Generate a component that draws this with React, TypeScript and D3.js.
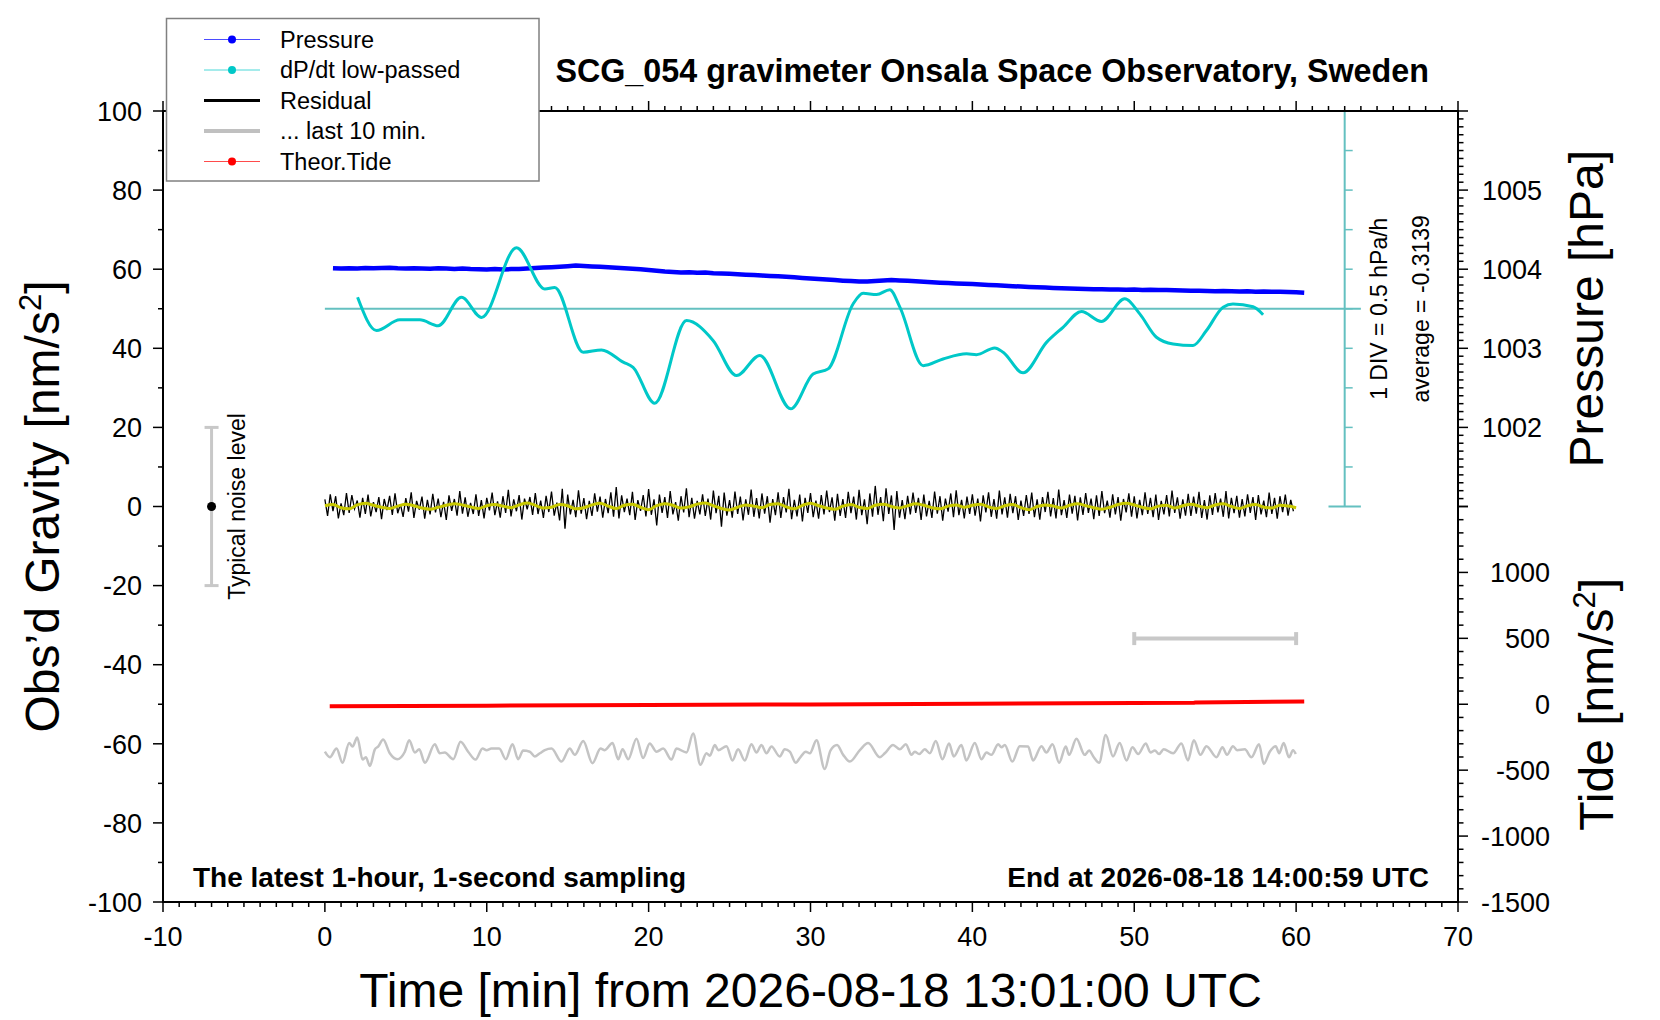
import React from "react";
import { scaleLinear, line, curveMonotoneX, range } from "d3";

// ---- chart data ----
const chartTitle = "SCG_054 gravimeter Onsala Space Observatory, Sweden";
const startLabel = "2026-08-18 13:01:00 UTC";
const endLabel = "2026-08-18 14:00:59 UTC";

const timeTicks = [-10, 0, 10, 20, 30, 40, 50, 60, 70];
const gravityTicks = [-100, -80, -60, -40, -20, 0, 20, 40, 60, 80, 100];
const pressureTicks = [1002, 1003, 1004, 1005];
const tideTicks = [1000, 500, 0, -500, -1000, -1500];

// pressure [hPa], every 0.5 min from 0.5 min
const pressureStep = 0.5;
const pressure = [
  1004.012, 1004.008, 1004.013, 1004.01, 1004.015, 1004.011, 1004.014, 1004.018, 1004.012, 1004.009,
  1004.013, 1004.01, 1004.006, 1004.011, 1004.008, 1004.004, 1004.009, 1004.003, 1004.0, 1003.996,
  1004.002, 1003.995, 1004.001, 1004.004, 1004.01, 1004.016, 1004.02, 1004.024, 1004.03, 1004.038,
  1004.046, 1004.04, 1004.034, 1004.03, 1004.024, 1004.018, 1004.012, 1004.005, 1003.998, 1003.99,
  1003.98, 1003.97, 1003.964, 1003.958, 1003.962, 1003.955, 1003.958, 1003.95, 1003.946, 1003.942,
  1003.936, 1003.93, 1003.926, 1003.92, 1003.915, 1003.91, 1003.904, 1003.898, 1003.89, 1003.882,
  1003.876, 1003.87, 1003.862, 1003.855, 1003.85, 1003.846, 1003.844, 1003.85, 1003.856, 1003.862,
  1003.858, 1003.853, 1003.848, 1003.842, 1003.836, 1003.83, 1003.826, 1003.82, 1003.816, 1003.812,
  1003.806, 1003.8, 1003.796, 1003.79, 1003.786, 1003.78, 1003.776, 1003.772, 1003.768, 1003.762,
  1003.758, 1003.756, 1003.752, 1003.75, 1003.748, 1003.746, 1003.744, 1003.742, 1003.74, 1003.742,
  1003.738, 1003.74, 1003.736, 1003.738, 1003.734, 1003.73, 1003.726, 1003.728, 1003.724, 1003.72,
  1003.724, 1003.722, 1003.718, 1003.72, 1003.716, 1003.718, 1003.714, 1003.716, 1003.712, 1003.708,
  1003.702,
];

// low-passed dP/dt [hPa/h] as [min, value]
const dpdtAverage = -0.3139;
const dpdt: [number, number][] = [
  [2.02, -0.169], [3.19, -0.589], [4.63, -0.454], [5.87, -0.454], [7.0, -0.529], [8.44, -0.169],
  [9.68, -0.424], [11.84, 0.456], [13.59, -0.064], [14.2, -0.044], [15.96, -0.864], [17.09, -0.834],
  [18.43, -0.989], [19.04, -1.054], [20.38, -1.509], [22.34, -0.464], [23.98, -0.714], [25.43, -1.159],
  [26.87, -0.904], [28.78, -1.579], [30.16, -1.139], [31.09, -1.074], [32.63, -0.254], [33.25, -0.119],
  [34.08, -0.134], [34.9, -0.074], [35.52, -0.294], [36.96, -1.034], [38.19, -0.949], [39.64, -0.884],
  [40.25, -0.894], [41.38, -0.809], [41.9, -0.864], [43.13, -1.124], [44.58, -0.739], [45.6, -0.549],
  [46.74, -0.349], [47.97, -0.474], [49.41, -0.189], [50.34, -0.379], [51.37, -0.674], [52.4, -0.759],
  [53.63, -0.779], [54.46, -0.589], [55.49, -0.294], [56.1, -0.254], [57.34, -0.289], [57.96, -0.389],
];

// residual [nm/s^2], every 10 s
const residualStep = 1 / 6;
const residual = [
  1.8, -2.4, 3.1, -1.2, 2.6, -3.0, 0.8, -2.2, 3.4, -1.6, 2.9, -0.6, 1.5, -2.8, 2.2, -1.9, 3.0, -2.5, 1.1, -1.4,
  2.4, -3.2, 1.9, -0.9, 2.7, -2.1, 3.3, -1.7, 0.6, -2.6, 2.1, -1.3, 3.6, -2.9, 1.4, -0.8, 2.5, -3.1, 1.7, -2.0,
  3.2, -1.5, 2.0, -2.7, 1.2, -3.4, 2.8, -1.1, 1.9, -2.3, 3.9, -1.8, 2.3, -2.6, 0.9, -1.9, 3.1, -2.4, 1.6, -3.0,
  2.2, -1.0, 3.5, -2.2, 1.3, -2.8, 2.6, -1.6, 4.2, -2.5, 1.8, -1.2, 2.9, -3.3, 2.0, -0.7, 2.4, -2.1, 3.4, -1.9,
  1.5, -2.9, 2.7, -1.4, 3.8, -2.3, 1.0, -3.5, 4.5, -5.6, 3.0, -2.0, 1.7, -2.7, 4.1, -1.8, 2.1, -3.2, 1.4, -2.4,
  3.3, -1.3, 2.5, -2.8, 1.9, -1.7, 3.6, -2.6, 4.9, -3.0, 2.8, -1.4, 2.0, -2.2, 3.7, -3.4, 1.6, -1.1, 2.9, -2.5,
  4.4, -2.1, 1.8, -4.8, 3.0, -1.6, 2.4, -2.9, 3.9, -2.0, 1.1, -3.6, 2.6, -1.5, 4.6, -2.7, 2.2, -3.1, 1.4, -2.0,
  3.1, -2.4, 2.0, -3.3, 4.0, -1.7, 2.7, -5.1, 3.5, -2.3, 1.6, -2.8, 3.8, -1.9, 2.5, -3.5, 1.8, -2.1, 4.3, -2.6,
  2.1, -3.0, 3.3, -1.8, 2.6, -4.1, 1.9, -2.2, 3.6, -2.9, 2.4, -1.5, 4.5, -3.2, 1.7, -2.5, 3.0, -3.8, 2.2, -1.6,
  3.4, -2.7, 1.5, -3.1, 2.9, -2.0, 4.0, -1.4, 2.3, -3.6, 3.2, -2.4, 1.9, -2.9, 3.7, -1.7, 2.5, -3.3, 4.2, -2.2,
  1.8, -4.5, 3.3, -2.6, 5.2, -2.1, 2.4, -3.7, 4.6, -1.9, 2.8, -5.9, 3.9, -2.8, 1.6, -3.2, 2.7, -2.0, 3.5, -1.6,
  2.2, -3.4, 3.0, -2.5, 1.4, -2.9, 3.8, -1.8, 2.6, -3.6, 2.0, -1.3, 3.3, -2.7, 4.1, -2.2, 1.7, -3.0, 2.5, -1.9,
  3.1, -2.3, 2.0, -3.8, 2.8, -1.5, 3.6, -2.6, 1.9, -3.1, 4.0, -2.0, 2.3, -2.8, 3.2, -1.7, 2.6, -3.4, 1.5, -2.4,
  2.9, -1.9, 3.5, -2.7, 1.8, -3.3, 2.4, -1.4, 3.7, -2.5, 2.1, -3.0, 4.3, -2.2, 1.6, -2.9, 3.0, -1.8, 2.7, -3.5,
  2.3, -2.1, 3.4, -1.6, 2.0, -3.2, 2.8, -2.4, 3.9, -1.7, 1.5, -2.8, 3.1, -2.0, 2.4, -3.6, 1.9, -1.5, 3.3, -2.6,
  2.6, -3.0, 1.7, -2.2, 3.6, -1.9, 2.2, -2.7, 3.0, -3.4, 1.4, -2.0, 2.9, -2.5, 4.0, -1.6, 2.3, -3.1, 1.8, -2.3,
  3.2, -2.4, 2.5, -1.8, 3.7, -2.9, 1.6, -3.3, 2.8, -2.1, 3.4, -1.5, 2.0, -2.6, 3.9, -3.0, 2.2, -1.7, 2.7, -2.8,
  1.9, -2.5, 3.1, -1.6, 2.4, -3.4, 2.9, -2.0, 1.5, -2.7, 3.5, -1.9, 2.2, -3.1, 2.6, -1.4, 3.0, -2.3, 1.7, -1.2,
];

// smoothed residual [nm/s^2], every 0.5 min
const smoothStep = 0.5;
const smoothed = [
  0.2, 0.5, -0.3, -0.6, 0.4, 0.8, 0.3, -0.2, -0.5, 0.1, 0.6, 0.2, -0.4, -0.7, -0.2, 0.3, 0.7, 0.4, -0.1, -0.5,
  0.2, 0.5, 0.1, -0.3, 0.4, 0.9, 0.3, -0.4, -0.2, 0.5, 0.2, -0.6, -0.3, 0.4, 0.8, 0.1, -0.5, 0.3, 0.6, -0.2,
  -0.8, 0.2, 0.7, 0.3, -0.4, -0.1, 0.6, 0.9, 0.2, -0.5, -0.9, -0.2, 0.4, 0.1, -0.3, 0.5, 0.7, -0.1, -0.6, 0.3,
  0.8, 0.2, -0.4, -0.7, 0.1, 0.5, -0.2, -0.5, 0.3, 0.6, 0.0, -0.4, 0.2, 0.7, 0.3, -0.3, -0.6, 0.1, 0.4, -0.2,
  0.3, 0.6, -0.1, -0.5, 0.2, 0.5, -0.3, -0.8, 0.0, 0.4, 0.1, -0.4, 0.3, 0.7, 0.2, -0.3, -0.7, -0.2, 0.5, 0.8,
  0.4, -0.2, -0.6, 0.1, 0.3, -0.4, 0.2, 0.6, 0.1, -0.3, 0.4, 0.7, 0.0, -0.5, 0.2, 0.5, -0.2, -0.4, 0.3, 0.1,
  -0.3,
];

// last 10 minutes of residual, stretched over the hour and drawn at an offset
const lastTenOffset = -62;
const lastTen: [number, number][] = [
  [0, 0], [0.31, -1.4], [0.72, 0.8], [1.09, -2.8], [1.5, 2.2], [1.71, 1.3], [2.0, 3.6], [2.33, -2.0],
  [2.53, -1.4], [2.78, -3.6], [3.09, 0.6], [3.29, 1.3], [3.6, 3.1], [4.01, -0.4], [4.47, -1.9], [4.94, 0],
  [5.21, 2.9], [5.56, -0.2], [5.83, 0.6], [6.18, -2.8], [6.79, 1.9], [7.1, -0.4], [7.41, -0.2], [7.93, -1.9],
  [8.38, 2.5], [8.85, 0], [9.31, -2.0], [9.74, 0.8], [9.99, 0.4], [10.29, 0.8], [10.77, 0.8], [11.18, -1.9],
  [11.59, 1.9], [11.94, -1.9], [12.25, 0.3], [12.66, 0], [12.97, -1.2], [13.28, -0.4], [13.59, 0.4], [14.0, 0.8],
  [14.62, -2.5], [15.13, 0.8], [15.44, -0.8], [15.96, 2.7], [16.53, -2.9], [17.03, 0.8], [17.29, 0.4], [17.77, 2.2],
  [18.12, -1.9], [18.39, 0.6], [18.74, -1.9], [19.25, 3.3], [19.66, -1.6], [20.07, 2.1], [20.49, 0], [20.9, 0.8],
  [21.41, -2.0], [21.72, 0.8], [22.34, -0.2], [22.75, 4.6], [23.2, -3.3], [23.57, -0.4], [23.78, -1.0], [24.09, 1.7],
  [24.3, 0.4], [24.81, 1.4], [25.18, -2.2], [25.53, 0.6], [25.94, -2.2], [26.35, 1.9], [26.66, -0.2], [26.97, 1.7],
  [27.28, -0.4], [27.59, 1.3], [28.1, -1.2], [28.41, 0.6], [28.72, 0], [29.09, -2.8], [29.34, -1.6], [29.71, 0],
  [29.96, -0.4], [30.37, 2.9], [30.88, -4.4], [31.23, 0.3], [31.64, 1.7], [32.02, -0.8], [32.43, -2.5], [33.05, 0.4],
  [33.56, 2.2], [34.28, -1.4], [34.59, -0.4], [35.1, 1.7], [35.52, 0.6], [35.89, 1.9], [36.24, -0.8], [36.44, 0],
  [36.71, -0.6], [37.06, 0.6], [37.37, -0.4], [37.74, 2.7], [38.15, -1.9], [38.56, 2.1], [38.85, -1.2], [39.32, 1.7],
  [39.63, -2.2], [40.15, 2.2], [40.56, -1.9], [40.87, -0.2], [41.18, -0.8], [41.59, 1.9], [41.8, 1.1], [42.0, 1.7],
  [42.47, -2.5], [42.93, 1.4], [43.44, 1.3], [43.75, -2.2], [44.27, 1.4], [44.57, -0.2], [44.95, 1.9], [45.36, -2.8],
  [45.77, 1.3], [45.97, -0.8], [46.43, 3.3], [46.94, -0.8], [47.21, 0.3], [47.5, -1.4], [47.83, -2.8], [48.24, 4.2],
  [48.69, -1.2], [49.1, 2.2], [49.52, -2.2], [49.89, 1.1], [50.24, -0.6], [50.71, 2.1], [51.0, -0.2], [51.27, 0.3],
  [51.53, -0.6], [51.82, 0.6], [52.4, -0.4], [52.91, 2.1], [53.32, -2.2], [53.68, 2.9], [54.09, -0.8], [54.46, 1.4],
  [55.08, -1.4], [55.45, 1.1], [55.73, -0.8], [56.1, 1.4], [56.35, 0.4], [56.83, 0.6], [57.24, -1.4], [57.71, 1.9],
  [58.0, -3.1], [58.37, 0], [58.74, 1.4], [58.95, -0.4], [59.23, 2.2], [59.56, -1.4], [59.81, 0.4], [59.98, -0.6],
];

// theoretical tide [nm/s^2] as [min, value]
const tide: [number, number][] = [
  [0.3, -16], [10, -11], [20, -6], [30, -1], [40, 4], [50, 9], [53.7, 11], [53.8, 14], [60.5, 21],
];

const noiseMarker = { t: -7, level: 20 };
const lastTenBar = { from: 50, to: 60, g: -33.4 };

const legendItems = [
  { label: "Pressure", color: "#0000ff", width: 1, dot: true },
  { label: "dP/dt low-passed", color: "#00c8c8", width: 1, dot: true },
  { label: "Residual", color: "#000000", width: 3, dot: false },
  { label: "... last 10 min.", color: "#c0c0c0", width: 4, dot: false },
  { label: "Theor.Tide", color: "#ff0000", width: 1, dot: true },
];

const FONT = "'Liberation Sans', Arial, Helvetica, sans-serif";
const W = 1660;
const H = 1020;

const App: React.FC = () => {
  const x = scaleLinear().domain([-10, 70]).range([163, 1458]);
  const yG = scaleLinear().domain([-100, 100]).range([902, 111]);
  const yP = scaleLinear().domain([1001, 1006]).range([yG(0), yG(100)]);
  const yT = scaleLinear().domain([-1500, 1500]).range([yG(-100), yG(0)]);
  const yD = scaleLinear()
    .domain([dpdtAverage - 2.5, dpdtAverage + 2.5])
    .range([yG(0), yG(100)]);

  const left = x(-10);
  const right = x(70);
  const top = yG(100);
  const bottom = yG(-100);

  const residualPath = line<number>()
    .x((d, i) => x(i * residualStep))
    .y((d) => yG(d))(residual);
  const smoothPath = line<number>()
    .x((d, i) => x(i * smoothStep))
    .y((d) => yG(d))
    .curve(curveMonotoneX)(smoothed);
  const pressurePath = line<number>()
    .x((d, i) => x(pressureStep + i * pressureStep))
    .y((d) => yP(d))(pressure);
  const dpdtPath = line<[number, number]>()
    .x((d) => x(d[0]))
    .y((d) => yD(d[1]))
    .curve(curveMonotoneX)(dpdt);
  const lastTenPath = line<[number, number]>()
    .x((d) => x(d[0]))
    .y((d) => yG(lastTenOffset + d[1]))
    .curve(curveMonotoneX)(lastTen);
  const tidePath = line<[number, number]>()
    .x((d) => x(d[0]))
    .y((d) => yT(d[1]))(tide);

  const teal = "#64c0c0";
  const divX = x(63);
  const divTicks = range(10, 100, 10);

  const gMinor = range(-100, 101, 10);
  const tMinor = range(-10, 71, 1);
  const pMinor = range(10010, 10061, 1).map((d) => d / 10);
  const tideMinor = range(-1500, 1501, 100);

  return (
    <svg
      width={W}
      height={H}
      style={{ position: "absolute", left: 0, top: 0, background: "white" }}
      fontFamily={FONT}
    >
      <rect x={0} y={0} width={W} height={H} fill="white" />

      {/* dP/dt scale and mean line */}
      <line x1={x(0)} x2={x(64)} y1={yD(dpdtAverage)} y2={yD(dpdtAverage)} stroke={teal} strokeWidth={2} />
      <line x1={divX} x2={divX} y1={yG(100)} y2={yG(0)} stroke={teal} strokeWidth={2} />
      <line x1={x(62)} x2={x(64)} y1={yG(100)} y2={yG(100)} stroke={teal} strokeWidth={2} />
      <line x1={x(62)} x2={x(64)} y1={yG(0)} y2={yG(0)} stroke={teal} strokeWidth={2} />
      {divTicks.map((d) => (
        <line key={`dv${d}`} x1={divX} x2={divX + 8} y1={yG(d)} y2={yG(d)} stroke={teal} strokeWidth={1.5} />
      ))}
      <text
        transform={`translate(1387,${yD(dpdtAverage)}) rotate(-90)`}
        textAnchor="middle"
        fontSize={23}
      >
        1 DIV = 0.5 hPa/h
      </text>
      <text
        transform={`translate(1429,${yD(dpdtAverage)}) rotate(-90)`}
        textAnchor="middle"
        fontSize={23}
      >
        average = {dpdtAverage.toFixed(4)}
      </text>

      {/* noise level marker */}
      <line
        x1={x(noiseMarker.t)} x2={x(noiseMarker.t)}
        y1={yG(noiseMarker.level)} y2={yG(-noiseMarker.level)}
        stroke="#c8c8c8" strokeWidth={3}
      />
      {[noiseMarker.level, -noiseMarker.level].map((d) => (
        <line key={`nm${d}`} x1={x(noiseMarker.t) - 7} x2={x(noiseMarker.t) + 7} y1={yG(d)} y2={yG(d)} stroke="#c8c8c8" strokeWidth={3} />
      ))}
      <circle cx={x(noiseMarker.t)} cy={yG(0)} r={4.5} fill="black" />
      <text transform={`translate(245,${yG(0)}) rotate(-90)`} textAnchor="middle" fontSize={23}>
        Typical noise level
      </text>

      {/* last 10 min window bar */}
      <line x1={x(lastTenBar.from)} x2={x(lastTenBar.to)} y1={yG(lastTenBar.g)} y2={yG(lastTenBar.g)} stroke="#c8c8c8" strokeWidth={4} />
      {[lastTenBar.from, lastTenBar.to].map((d) => (
        <line key={`lb${d}`} x1={x(d)} x2={x(d)} y1={yG(lastTenBar.g) - 6.5} y2={yG(lastTenBar.g) + 6.5} stroke="#c8c8c8" strokeWidth={4} />
      ))}

      {/* series */}
      <path d={pressurePath ?? ""} fill="none" stroke="#0000ff" strokeWidth={4.5} strokeLinejoin="round" />
      <path d={dpdtPath ?? ""} fill="none" stroke="#00c8c8" strokeWidth={3} />
      <path d={residualPath ?? ""} fill="none" stroke="black" strokeWidth={1.3} />
      <path d={smoothPath ?? ""} fill="none" stroke="#c8c800" strokeWidth={3} />
      <path d={lastTenPath ?? ""} fill="none" stroke="#c4c4c4" strokeWidth={2.5} />
      <path d={tidePath ?? ""} fill="none" stroke="#ff0000" strokeWidth={4} />

      {/* frame */}
      <rect x={left} y={top} width={right - left} height={bottom - top} fill="none" stroke="black" strokeWidth={2} />

      {/* left axis */}
      {gMinor.map((d) => (
        <line key={`gl${d}`} x1={left} x2={left - (d % 20 === 0 ? 10 : 5)} y1={yG(d)} y2={yG(d)} stroke="black" strokeWidth={1.5} />
      ))}
      {gravityTicks.map((d) => (
        <text key={`gt${d}`} x={142} y={yG(d)} dy="0.36em" textAnchor="end" fontSize={27}>
          {d}
        </text>
      ))}

      {/* bottom and top axes */}
      {tMinor.map((d) => (
        <g key={`tx${d}`}>
          <line x1={x(d)} x2={x(d)} y1={bottom} y2={bottom + (d % 10 === 0 ? 10 : 5)} stroke="black" strokeWidth={1.5} />
          <line x1={x(d)} x2={x(d)} y1={top} y2={top - (d % 10 === 0 ? 10 : 5)} stroke="black" strokeWidth={1.5} />
        </g>
      ))}
      {timeTicks.map((d) => (
        <text key={`tt${d}`} x={x(d)} y={946} textAnchor="middle" fontSize={27}>
          {d}
        </text>
      ))}

      {/* right axes: pressure (top half), tide (bottom half) */}
      {pMinor.map((d) => (
        <line key={`pm${d}`} x1={right} x2={right + (Number.isInteger(d) ? 10 : 5.5)} y1={yP(d)} y2={yP(d)} stroke="black" strokeWidth={1.5} />
      ))}
      {pressureTicks.map((d) => (
        <text key={`pt${d}`} x={1482} y={yP(d)} dy="0.36em" fontSize={27}>
          {d}
        </text>
      ))}
      {tideMinor.map((d) => (
        <line key={`tm${d}`} x1={right} x2={right + (d % 500 === 0 ? 10 : 5.5)} y1={yT(d)} y2={yT(d)} stroke="black" strokeWidth={1.5} />
      ))}
      {tideTicks.map((d) => (
        <text key={`tdt${d}`} x={1550} y={yT(d)} dy="0.36em" textAnchor="end" fontSize={27}>
          {d}
        </text>
      ))}

      {/* axis titles */}
      <text transform={`translate(59,${yG(0)}) rotate(-90)`} textAnchor="middle" fontSize={48}>
        Obs’d Gravity [nm/s<tspan fontSize={31} dy={-18}>2</tspan><tspan dy={18}>]</tspan>
      </text>
      <text transform={`translate(1603,${yG(50)}) rotate(-90)`} textAnchor="middle" fontSize={48}>
        Pressure [hPa]
      </text>
      <text transform={`translate(1613,${yT(0)}) rotate(-90)`} textAnchor="middle" fontSize={48}>
        Tide [nm/s<tspan fontSize={31} dy={-18}>2</tspan><tspan dy={18}>]</tspan>
      </text>
      <text x={x(30)} y={1007} textAnchor="middle" fontSize={48}>
        Time [min] from {startLabel}
      </text>

      {/* titles */}
      <text x={1429} y={82} textAnchor="end" fontSize={32.3} fontWeight="bold">
        {chartTitle}
      </text>
      <text x={193} y={887} fontSize={28} fontWeight="bold">
        The latest 1-hour, 1-second sampling
      </text>
      <text x={1429} y={887} textAnchor="end" fontSize={28} fontWeight="bold">
        End at {endLabel}
      </text>

      {/* legend */}
      <rect x={166.5} y={18.5} width={372.5} height={162.5} fill="white" stroke="#808080" strokeWidth={1.5} />
      {legendItems.map((d, i) => {
        const ly = 39.5 + i * 30.5;
        return (
          <g key={d.label}>
            <line x1={204} x2={260} y1={ly} y2={ly} stroke={d.color} strokeWidth={d.width} opacity={d.dot ? 0.7 : 1} />
            {d.dot && <circle cx={232} cy={ly} r={4} fill={d.color} />}
            <text x={280} y={ly} dy="0.36em" fontSize={23.5}>
              {d.label}
            </text>
          </g>
        );
      })}
    </svg>
  );
};

export default App;
